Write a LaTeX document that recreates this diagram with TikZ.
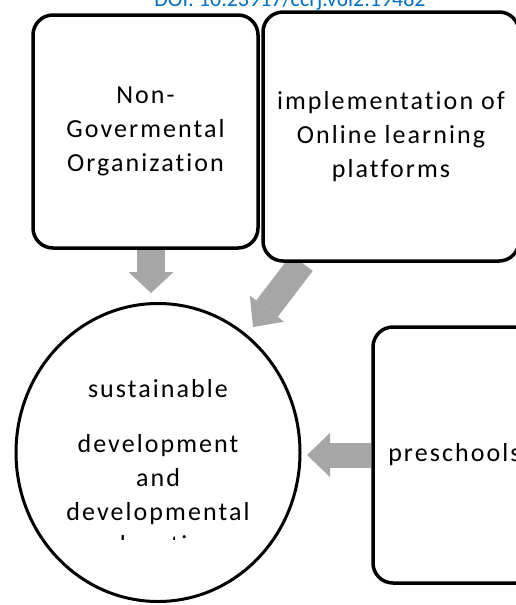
\documentclass[tikz,border=0pt]{standalone}
\usepackage{fontspec}
\setmainfont{Carlito}
\newfontfamily\boxfont[LetterSpace=8,Ligatures=NoCommon]{Carlito}
\usetikzlibrary{shapes.geometric,arrows.meta}
\pgfdeclarelayer{bg}
\pgfsetlayers{bg,main}
\definecolor{arrowgray}{RGB}{166,166,166}
\definecolor{doiblue}{RGB}{0,112,192}
\begin{document}
\begin{tikzpicture}[x=1pt,y=-1pt,
  boxtext/.style={font=\boxfont\fontsize{26}{34}\selectfont},
  box/.style={boxtext, draw, line width=3.5pt, rounded corners=20pt, fill=white, inner sep=0pt, align=center},
  circ/.style={boxtext, draw, ellipse, line width=3pt, fill=white, inner sep=0pt, align=center},
  blockarrow/.style={draw=arrowgray, line cap=butt}
]
\clip (0,0) rectangle (516,605);
\begin{pgfonlayer}{bg}
\fill[white] (0,0) rectangle (516,605);
\end{pgfonlayer}

\node[font=\fontsize{22}{24}\selectfont, text=doiblue, anchor=base, inner sep=0pt] (doi) at (290,6) {DOI: 10.23917/ccrj.v6i2.19482};

\node[box, minimum width=225pt, minimum height=233pt] (ngo) at (145.5,131.5) {Non-\\Govermental\\Organization};
\node[box, minimum width=256pt, minimum height=249pt] (impl) at (391,136.5) {implementation of\\Online learning\\platforms};
\node[box, minimum width=163pt, minimum height=256pt] (pre) at (454.5,455) {preschools};
\node[circ, minimum width=284pt, minimum height=298pt] (sdg) at (158,452.5) {sustainable\\[21pt]development\\and\\developmental};

\begin{scope}
\clip (90,500) rectangle (230,539);
\node[boxtext, anchor=base, inner sep=0pt] (edu) at (158,553) {education};
\end{scope}

\coordinate (a1) at (151,293);
\coordinate (a2) at (253,327);
\coordinate (a3) at (307,455);

\begin{pgfonlayer}{bg}
\draw[blockarrow, line width=28pt, -{Triangle[length=21pt,width=45pt,line width=0pt]}] ([xshift=5.5pt]ngo.south) -- (a1);
\draw[blockarrow, line width=27pt, -{Triangle[length=23pt,width=43pt,line width=0pt]}] ([xshift=-89pt]impl.south) -- (a2);
\draw[blockarrow, line width=25pt, -{Triangle[length=23pt,width=44pt,line width=0pt]}] (pre.west) -- (a3);
\end{pgfonlayer}
\end{tikzpicture}
\end{document}
